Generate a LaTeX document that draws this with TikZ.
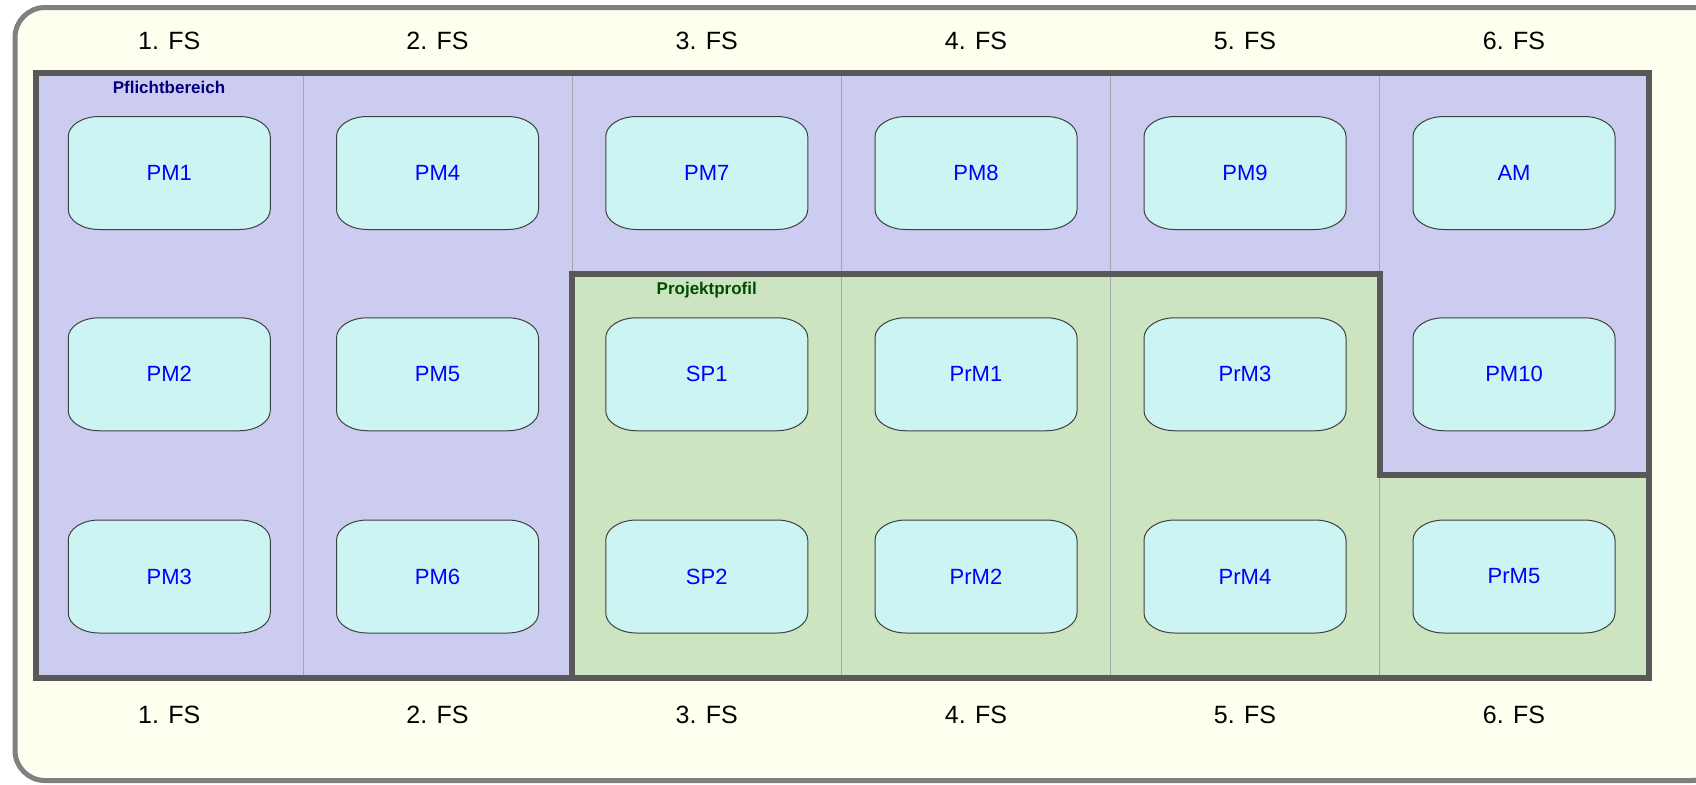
\documentclass[tikz,border=0pt]{standalone}
\usepackage{fontspec}
\setmainfont{Liberation Sans}
\definecolor{bgcream}{RGB}{255,255,240}
\definecolor{lav}{RGB}{204,204,240}
\definecolor{grn}{RGB}{205,228,193}
\definecolor{modfill}{RGB}{204,244,242}
\definecolor{thickc}{RGB}{88,88,88}
\definecolor{outerc}{RGB}{128,128,128}
\definecolor{thinc}{RGB}{160,168,170}
\definecolor{navyc}{RGB}{0,0,128}
\definecolor{dgreen}{RGB}{0,77,0}
\tikzset{
  module/.style={draw=none, fill=none,
    minimum width=101pt, minimum height=56.5pt, inner sep=0pt,
    text=blue, font=\fontsize{11}{13}\selectfont},
  modoutline/.style={draw=black!75, line width=0.5pt, fill=modfill},
  fslabel/.style={font=\fontsize{12.5}{15}\selectfont, text=black, inner sep=0pt},
  arealabel/.style={font=\bfseries\fontsize{8.5}{10}\selectfont, inner sep=0pt, anchor=base},
  thinline/.style={draw=thinc, line width=0.5pt},
  thickline/.style={draw=thickc, line width=3pt, line join=miter, line cap=rect},
}
\newcommand{\modbox}[4]{%
  \path[modoutline] (#2,#3) ++(-35pt,28.25pt) -- ++(70pt,0pt)
    arc[start angle=90, end angle=0, x radius=15.5pt, y radius=10pt] -- ++(0pt,-36.5pt)
    arc[start angle=0, end angle=-90, x radius=15.5pt, y radius=10pt] -- ++(-70pt,0pt)
    arc[start angle=270, end angle=180, x radius=15.5pt, y radius=10pt] -- ++(0pt,36.5pt)
    arc[start angle=180, end angle=90, x radius=15.5pt, y radius=10pt] -- cycle;
  \node[module] (#1) at (#2,#3) {#4};
}
\begin{document}
\begin{tikzpicture}[x=0.5pt,y=-0.5pt]
\useasboundingbox (0,0) rectangle (1696,784);
\begin{scope}
\clip (0,0) rectangle (1696,784);
% outer frame
\draw[draw=outerc, line width=2.5pt, fill=bgcream, rounded corners=15pt] (15,7.5) rectangle (1722,780.5);
\end{scope}
% regions
\fill[lav] (35.5,72.5) -- (1648.5,72.5) -- (1648.5,475) -- (1379.5,475) -- (1379.5,273.5) -- (572,273.5) -- (572,678) -- (35.5,678) -- cycle;
\fill[grn] (572,273.5) -- (1379.5,273.5) -- (1379.5,475) -- (1648.5,475) -- (1648.5,678) -- (572,678) -- cycle;
% thin column dividers
\foreach \x in {303,572,841.5,1110.5,1379.5}
  \draw[thinline] (\x,72.5) -- (\x,678);
% thick borders
\draw[thickline] (35.5,72.5) rectangle (1648.5,678);
\draw[thickline] (572,678) -- (572,273.5) -- (1379.5,273.5) -- (1379.5,475) -- (1648.5,475);
% area labels
\node[arealabel, text=navyc] (pflicht) at (169,93) {Pflichtbereich};
\node[arealabel, text=dgreen] (projekt) at (706.75,294) {Projektprofil};
% semester labels
\foreach \c/\x in {1/169.25,2/437.5,3/706.75,4/976,5/1245,6/1514} {
  \node[fslabel] (top\c) at (\x,41) {\c. FS};
  \node[fslabel] (bot\c) at (\x,715) {\c. FS};
}
% modules
\modbox{pm1}{169.25}{173}{PM1}
\modbox{pm2}{169.25}{374.25}{PM2}
\modbox{pm3}{169.25}{576.5}{PM3}
\modbox{pm4}{437.5}{173}{PM4}
\modbox{pm5}{437.5}{374.25}{PM5}
\modbox{pm6}{437.5}{576.5}{PM6}
\modbox{pm7}{706.75}{173}{PM7}
\modbox{sp1}{706.75}{374.25}{SP1}
\modbox{sp2}{706.75}{576.5}{SP2}
\modbox{pm8}{976}{173}{PM8}
\modbox{prm1}{976}{374.25}{PrM1}
\modbox{prm2}{976}{576.5}{PrM2}
\modbox{pm9}{1245}{173}{PM9}
\modbox{prm3}{1245}{374.25}{PrM3}
\modbox{prm4}{1245}{576.5}{PrM4}
\modbox{am}{1514}{173}{AM}
\modbox{pm10}{1514}{374.25}{PM10}
\modbox{prm5}{1514}{576.5}{PrM5}
\end{tikzpicture}
\end{document}
